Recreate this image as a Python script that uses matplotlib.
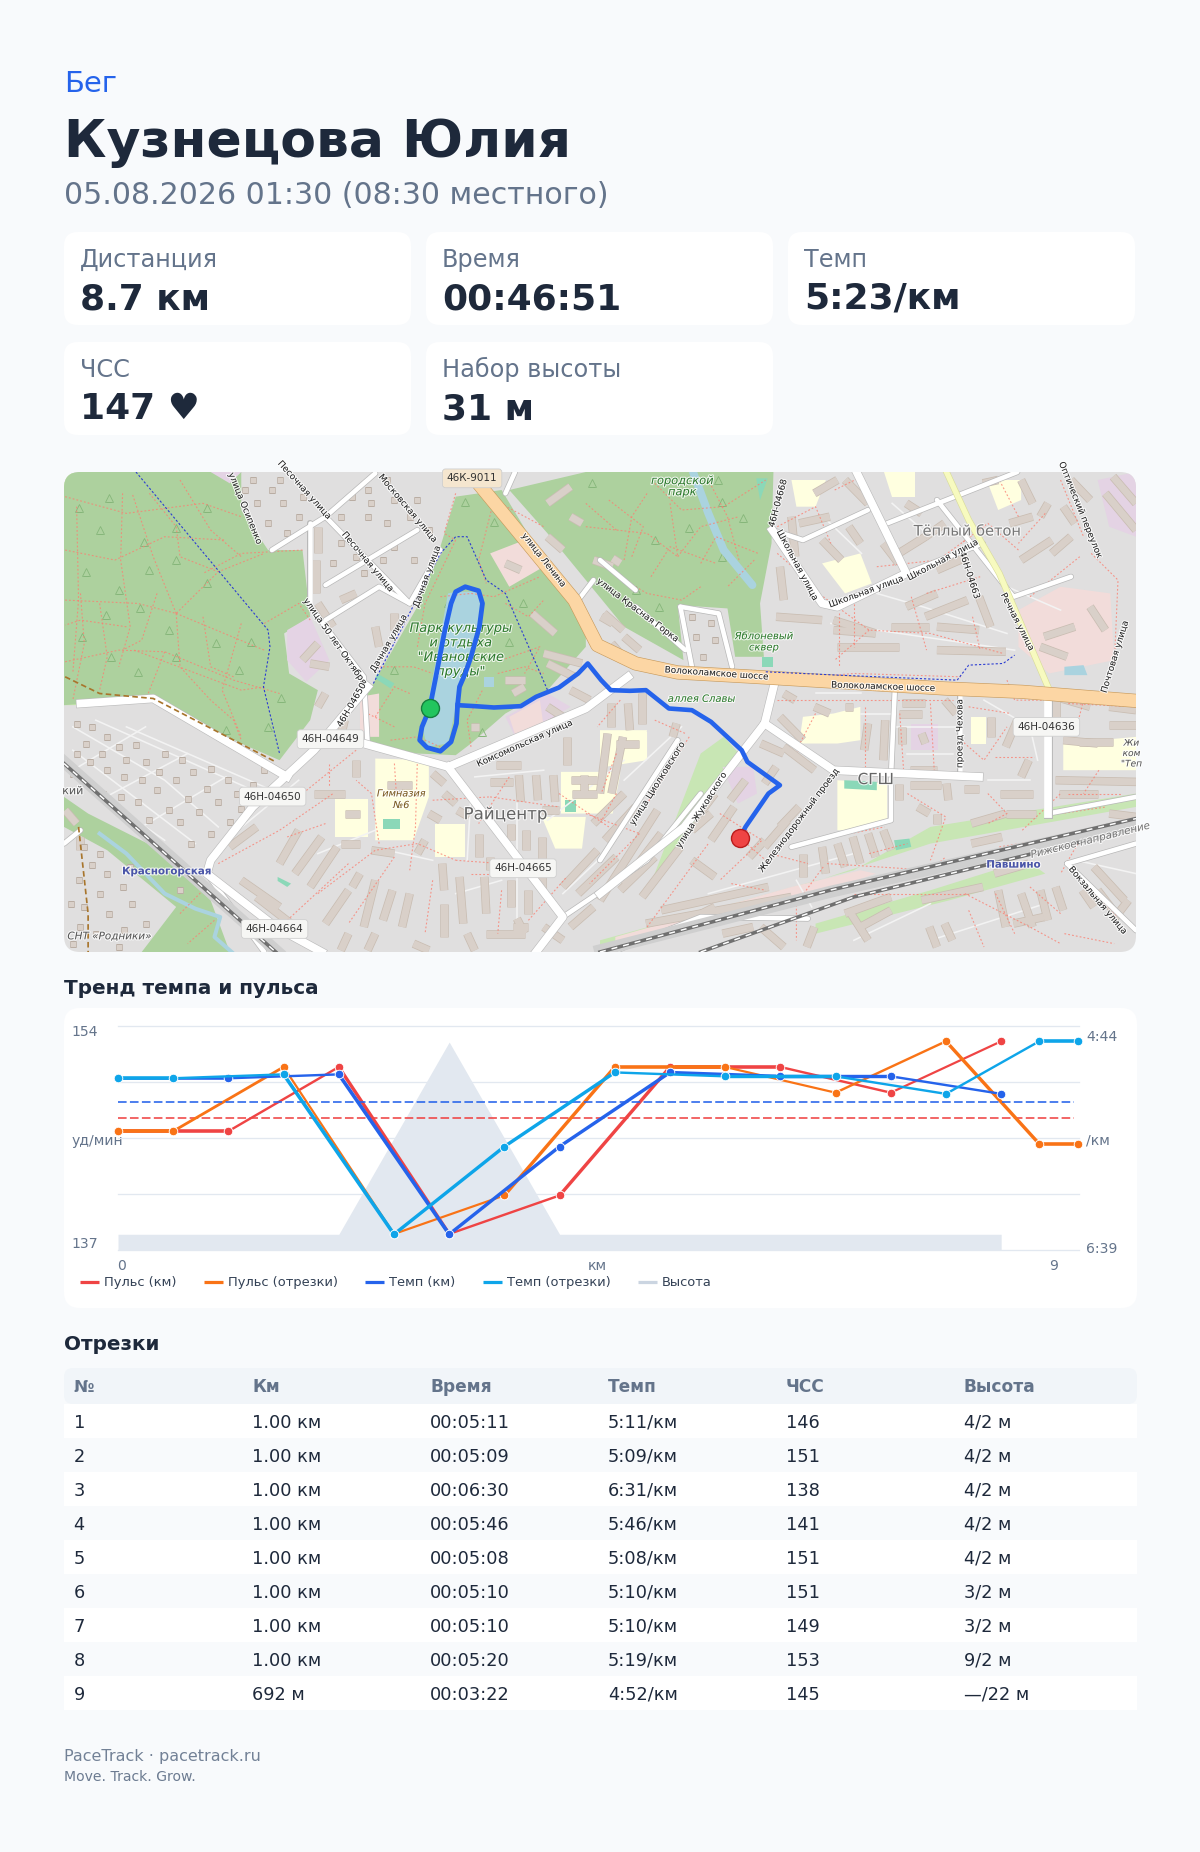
#!/usr/bin/env python3
import matplotlib
matplotlib.use('Agg')
import matplotlib.pyplot as plt
import matplotlib.patheffects as pe
from matplotlib.patches import FancyBboxPatch, Polygon

plt.rcParams['font.family'] = ['DejaVu Sans']
plt.rcParams['lines.scale_dashes'] = False

W, H = 1200, 1852
PT = 0.72  # one pixel in points at dpi 100

BG = '#f8fafc'
DARK = '#1e293b'
GREY = '#64748b'
BLUE = '#2563eb'
RED = '#ef4444'
ORANGE = '#f97316'
CYAN = '#0ea5e9'
ELEV = '#e2e8f0'
GRID = '#e2e8f0'

# --- chart data ---
km_x = [0, 1, 2, 3, 4, 5, 6, 7, 8]
seg_x = [0, 0.5, 1.5, 2.5, 3.5, 4.5, 5.5, 6.5, 7.5, 8.346, 8.692]
hr_km = [146, 146, 151, 138, 141, 151, 151, 149, 153]
hr_seg = [146, 146, 151, 138, 141, 151, 151, 149, 153, 145, 145]
pace_km = [311, 311, 309, 391, 346, 308, 310, 310, 319]
pace_seg = [311, 311, 309, 391, 346, 308, 310, 310, 319, 292, 292]
elev_km = [1, 1, 1, 13, 1, 1, 1, 1, 1]
hr_avg = 147
pace_avg = 323

# line thickness per segment, px (the lines in the source change width)
hr_km_w = [3.6, 2.4, 3.4, 2.4, 3.4, 3.6, 2.4, 2.2]
hr_seg_w = [3.6, 2.8, 2.2, 2.2, 3.4, 3.6, 2.2, 2.4, 3.4, 3.6]
pace_km_w = [2.6, 2.4, 3.6, 3.4, 3.4, 3.2, 3.4, 2.4]
pace_seg_w = [3.6, 2.4, 3.6, 3.4, 3.4, 2.4, 3.4, 2.4, 2.4, 3.6]

legend_names = ['Пульс (км)', 'Пульс (отрезки)', 'Темп (км)', 'Темп (отрезки)', 'Высота']
legend_cols = [RED, ORANGE, BLUE, CYAN, '#cbd5e1']

# --- page text ---
cards = [('Дистанция', '8.7 км'), ('Время', '00:46:51'), ('Темп', '5:23/км'),
         ('ЧСС', '147 ♥'), ('Набор высоты', '31 м')]
table_head = ['№', 'Км', 'Время', 'Темп', 'ЧСС', 'Высота']
table_rows = [
    ['1', '1.00 км', '00:05:11', '5:11/км', '146', '4/2 м'],
    ['2', '1.00 км', '00:05:09', '5:09/км', '151', '4/2 м'],
    ['3', '1.00 км', '00:06:30', '6:31/км', '138', '4/2 м'],
    ['4', '1.00 км', '00:05:46', '5:46/км', '141', '4/2 м'],
    ['5', '1.00 км', '00:05:08', '5:08/км', '151', '4/2 м'],
    ['6', '1.00 км', '00:05:10', '5:10/км', '151', '3/2 м'],
    ['7', '1.00 км', '00:05:10', '5:10/км', '149', '3/2 м'],
    ['8', '1.00 км', '00:05:20', '5:19/км', '153', '9/2 м'],
    ['9', '692 м', '00:03:22', '4:52/км', '145', '—/22 м'],
]

# --- map data, in sheet units (left part); OFF shifts the right part lists ---
OFF = 1437
route_lake = [(992, 745), (1010, 640), (1030, 520), (1048, 430), (1060, 395), (1085, 380), (1120, 392),
              (1130, 430), (1122, 500), (1100, 590), (1085, 640), (1070, 680), (1065, 735), (1062, 790),
              (1048, 845), (1020, 873), (985, 862), (966, 840), (972, 800), (992, 745)]
route_east = [(1065, 735), (1110, 738), (1160, 742), (1230, 738), (1270, 710), (1330, 682), (1380, 640),
              (1405, 610), (1440, 660), (1465, 690), (1515, 692), (1557, 690), (1617, 745), (1677, 750),
              (1727, 785), (1807, 870), (1822, 905), (1907, 975), (1877, 1000), (1847, 1050), (1817, 1100),
              (1803, 1133)]

forest = [(37, 36), (500, 36), (500, 150), (570, 270), (660, 270), (680, 470), (612, 520), (625, 640),
          (700, 690), (680, 780), (600, 900), (500, 850), (270, 715), (37, 735)]
park_mid = [(1020, 260), (1060, 110), (1180, 90), (1290, 300), (1400, 470), (1400, 560), (1300, 690), (1190, 760),
            (1100, 850), (1060, 885), (960, 880), (830, 855), (830, 700), (860, 640), (960, 440)]
park_top = [(1200, 90), (1400, 36), (1890, 36), (1885, 250), (1855, 430), (1865, 590), (1790, 590), (1770, 445),
            (1640, 435), (1655, 600), (1500, 500), (1400, 360), (1300, 220)]
green_sw = [(37, 1010), (100, 1060), (290, 1170), (420, 1320), (470, 1475), (240, 1475), (330, 1340), (150, 1170),
            (37, 1100)]
green_rail = [(1560, 1300), (1640, 1060), (1700, 880), (1760, 830), (1800, 880), (1680, 1090)]
green_strip = [(1437, 1440), (2100, 1230), (2300, 1100), (2837, 1000), (2837, 1040), (2300, 1150), (1437, 1475)]
green_sw2 = [(2000, 1390), (2300, 1290), (2550, 1200), (2600, 1240), (2350, 1320), (2000, 1420)]
water_pond = [(1060, 395), (1125, 395), (1125, 470), (1080, 640), (1040, 850), (985, 860), (975, 810), (1040, 400)]
water_river = [(1680, 36), (1720, 160), (1760, 270), (1835, 375)]
water_sw = [(130, 1120), (200, 1180), (300, 1300), (380, 1345), (445, 1370), (430, 1430), (475, 1475)]
schools = [
    [(850, 895), (990, 900), (990, 1010), (950, 1140), (850, 1140)],
    [(745, 1015), (830, 1015), (830, 1130), (745, 1130)],
    [(1005, 1090), (1085, 1090), (1085, 1190), (1005, 1190)],
    [(1335, 935), (1490, 935), (1460, 1060), (1335, 1060)],
    [(1285, 1070), (1400, 1070), (1390, 1165), (1320, 1165)],
    [(1450, 815), (1560, 815), (1560, 900), (1450, 920)],
    [(1967, 770), (2047, 760), (2117, 740), (2117, 840), (2057, 850), (1957, 850)],
    [(2057, 960), (2187, 970), (2187, 1080), (2077, 1110), (2057, 1110)],
    [(2017, 310), (2117, 280), (2147, 370), (2077, 400)],
    [(1937, 60), (2027, 60), (2000, 140), (1950, 140)],
    [(2447, 60), (2537, 60), (2537, 120), (2477, 150)],
    [(2647, 850), (2837, 830), (2837, 930), (2647, 930)],
    [(2180, 36), (2260, 36), (2260, 110), (2200, 110)],
    [(2405, 770), (2445, 770), (2445, 850), (2405, 850)],
    [(1437, 810), (1560, 810), (1540, 900), (1437, 920)],
    [(1437, 940), (1490, 940), (1470, 1060), (1437, 1060)],
]
mauve = [
    [(620, 510), (680, 470), (730, 600), (670, 665), (620, 600)],
    [(1190, 770), (1300, 700), (1360, 740), (1220, 840)],
    [(2737, 60), (2837, 36), (2837, 230), (2767, 200)],
    [(1757, 920), (1837, 920), (1847, 1000), (1797, 1030)],
    [(420, 36), (500, 36), (470, 70)],
    [(2250, 790), (2320, 790), (2320, 870), (2250, 870)],
    [(2420, 1180), (2300, 1230), (2380, 1200)],
]
pinks = [
    [(1150, 280), (1240, 240), (1290, 320), (1200, 380)],
    [(2530, 450), (2640, 380), (2770, 400), (2780, 600), (2610, 640), (2530, 560)],
    [(1477, 1430), (1937, 1280), (2117, 1230), (2157, 1240), (1937, 1330), (1477, 1475)],
    [(810, 710), (860, 700), (860, 830), (810, 830)],
    [(1200, 770), (1280, 720), (1290, 800), (1220, 840)],
]
water_small = [[(2650, 620), (2700, 615), (2710, 645), (2650, 645)], [(1135, 650), (1160, 650), (1160, 680), (1135, 680)]]
teal = [[(870, 1075), (915, 1075), (915, 1105), (870, 1105)], [(1345, 1020), (1375, 1020), (1375, 1055), (1345, 1055)],
        [(1855, 120), (1875, 55), (1845, 55)], [(2205, 1140), (2245, 1135), (2250, 1160), (2210, 1170)],
        [(855, 640), (900, 670), (890, 685), (850, 655)], [(595, 1250), (630, 1270), (620, 1280), (595, 1262)],
        [(1860, 590), (1890, 590), (1890, 620), (1860, 620)], [(2075, 960), (2160, 965), (2160, 990), (2075, 985)]]

motorway = [(1130, 85), (1370, 420), (1430, 555), (1530, 610), (1640, 637), (1840, 650), (2337, 685), (2540, 695),
            (2837, 722)]
yellow_road = [(2342, 36), (2400, 180), (2480, 340), (2607, 680)]
big_roads = [
    [(690, 850), (820, 850), (1040, 920), (1400, 745), (1510, 650)],
    [(1040, 920), (1340, 1370), (1270, 1475)],
    [(830, 680), (690, 870), (530, 1040), (420, 1200), (410, 1240), (590, 1400), (710, 1475)],
    [(620, 950), (270, 715), (80, 730)],
    [(1897, 650), (1867, 790), (1657, 1100), (1437, 1300)],
    [(1867, 790), (2047, 930), (2427, 950)],
    [(2607, 730), (2607, 1060)],
    [(2107, 36), (2237, 340), (2057, 440), (2017, 430), (1887, 210)],
]
small_roads = [
    [(680, 440), (820, 650), (830, 850)], [(580, 270), (720, 170), (850, 40)], [(720, 170), (940, 430), (1020, 270)],
    [(680, 190), (680, 430)], [(720, 480), (860, 380), (940, 430)], [(720, 375), (960, 210)], [(1190, 100), (1215, 36)],
    [(1380, 420), (1420, 360)], [(1887, 210), (1967, 240), (2137, 150)], [(2237, 340), (2437, 250)],
    [(2187, 190), (2527, 36)], [(2317, 120), (2517, 410), (2667, 350)], [(2607, 1060), (2837, 1010)],
    [(1647, 440), (1747, 460), (1782, 620)], [(1647, 440), (1677, 620)], [(2377, 700), (2377, 950)],
    [(2207, 690), (2197, 950), (2197, 1080), (1937, 1160)], [(2657, 1210), (2837, 1150)], [(2657, 1210), (2837, 1410)],
    [(1437, 300), (1530, 390)], [(1530, 440), (1660, 570)], [(1470, 1475), (1700, 1370), (1980, 1375)],
    [(1340, 1370), (1560, 1200), (1700, 1000)], [(37, 1150), (80, 1110)], [(1640, 840), (1437, 1200)],
    [(560, 1475), (410, 1240)],
]
lanes = [
    [(60, 800), (300, 960), (440, 1100)], [(60, 870), (380, 1150)], [(60, 950), (300, 1140)], [(120, 780), (550, 1000)],
    [(200, 800), (600, 1000)], [(460, 950), (240, 1100)], [(360, 880), (130, 1020)], [(250, 800), (60, 930)],
    [(470, 1130), (650, 960)], [(880, 1170), (1000, 1200)], [(1100, 1000), (1090, 1200)], [(1110, 950), (1290, 930)],
    [(1300, 1080), (1500, 900)], [(1650, 800), (1500, 960)], [(2000, 700), (2120, 700)], [(2120, 760), (2210, 760)],
    [(2210, 800), (2380, 800)], [(2240, 880), (2360, 880)], [(2440, 720), (2560, 800), (2580, 900)], [(2450, 960), (2560, 960)],
    [(2160, 400), (2280, 440), (2500, 520)], [(2040, 490), (2520, 570)], [(2020, 170), (2120, 280)], [(2200, 130), (2300, 230)],
    [(2500, 380), (2640, 450)], [(2680, 1200), (2837, 1240)], [(1720, 1300), (2100, 1180)], [(2200, 1240), (2500, 1160)],
    [(2100, 1440), (2300, 1330)], [(2300, 1440), (2600, 1330)], [(1950, 1260), (1990, 1340)], [(1220, 980), (1220, 1400)],
    [(1340, 1300), (1450, 1180)], [(700, 1180), (850, 1110)], [(1060, 1300), (1180, 1260)],
]
cottages = [(70, 790), (110, 800), (150, 830), (95, 850), (135, 880), (180, 860), (225, 855), (200, 900), (250, 905),
            (300, 880), (345, 900), (285, 935), (240, 960), (195, 950), (150, 930), (105, 905), (70, 880), (60, 940),
            (100, 970), (140, 1000), (185, 1010), (230, 1025), (280, 990), (330, 960), (375, 935), (420, 925),
            (465, 960), (410, 985), (360, 1015), (310, 1050), (260, 1080), (340, 1085), (390, 1055), (440, 1025),
            (490, 1000), (530, 975), (560, 930), (470, 1085), (420, 1120), (370, 1150), (500, 1045), (150, 1240),
            (110, 1215), (190, 1280), (130, 1300), (75, 1260), (90, 1340), (155, 1360), (215, 1330), (250, 1390),
            (195, 1410), (120, 1420), (530, 60), (580, 90), (540, 130), (610, 130), (650, 170), (570, 190), (620, 220),
            (790, 110), (830, 90), (880, 60), (900, 120), (830, 170), (880, 190), (940, 170), (760, 250), (800, 290),
            (900, 260), (950, 300), (870, 300), (1677, 470), (1727, 490), (1687, 530), (1737, 540), (1707, 590),
            (510, 90), (600, 60), (660, 110), (760, 170), (840, 130), (960, 120), (990, 210), (740, 310), (820, 340),
            (55, 1330), (80, 1400), (60, 1450), (180, 1460), (130, 1180), (90, 1160), (340, 1290), (210, 1220)]
buildings = [
    (600, 1210, 650, 1110), (640, 1240, 710, 1130), (680, 1280, 750, 1160), (500, 1260, 600, 1340), (720, 1390, 780, 1290),
    (790, 1280, 810, 1240), (820, 1400, 850, 1260), (870, 1380, 895, 1290), (1025, 1210, 1030, 1290), (1070, 1250, 1080, 1390),
    (1135, 1250, 1140, 1360), (1205, 1090, 1205, 1140), (1245, 1110, 1245, 1170), (1285, 1130, 1285, 1290), (1205, 1260, 1205, 1340),
    (1250, 1290, 1250, 1360), (1120, 1120, 1120, 1190), (1150, 965, 1210, 965), (1225, 945, 1230, 1025), (1270, 945, 1275, 1020),
    (1315, 945, 1320, 1025), (1350, 830, 1350, 915), (1165, 915, 1230, 915), (1285, 1050, 1330, 1050), (1465, 730, 1465, 800),
    (1510, 730, 1515, 810), (880, 975, 945, 975), (910, 965, 910, 1000), (770, 1060, 810, 1060), (1360, 960, 1430, 960),
    (1395, 945, 1395, 1000), (1365, 1000, 1430, 1000), (1480, 850, 1540, 850), (700, 200, 700, 280), (695, 300, 695, 400),
    (760, 420, 800, 400), (850, 500, 860, 560), (900, 460, 900, 510), (700, 430, 740, 500), (660, 600, 700, 550), (680, 610, 730, 620),
    (1300, 230, 1340, 270), (1290, 580, 1390, 610), (1300, 610, 1370, 650), (1260, 460, 1320, 520), (1190, 310, 1230, 330),
    (1360, 690, 1410, 720), (1300, 740, 1340, 770), (1300, 130, 1360, 80), (1470, 295, 1490, 310), (1420, 1090, 1500, 1000),
    (1450, 1140, 1530, 1040), (1490, 1290, 1580, 1190), (1340, 1280, 1430, 1170), (1380, 1300, 1480, 1190),
    (960, 1180, 980, 1140), (1090, 1420, 1110, 1470), (1140, 1420, 1240, 1420), (1220, 1375, 1240, 1420), (950, 1450, 990, 1470),
    (700, 850, 770, 850), (690, 1000, 770, 1000), (800, 900, 800, 950), (840, 1170, 900, 1180),
    (80, 1130, 80, 1170), (40, 1050, 70, 1090),
    (540, 1310, 630, 1390), (470, 1160, 540, 1100), (1000, 940, 1030, 970), (1030, 1000, 1060, 1030), (990, 1060, 1020, 1080),
    (1065, 1050, 1095, 1070), (760, 1150, 810, 1150), (1150, 1190, 1150, 1230), (1360, 1400, 1420, 1340), (1290, 1400, 1340, 1440),
    (1210, 1400, 1250, 1400), (1030, 1330, 1030, 1430), (940, 1300, 920, 1400), (780, 1420, 760, 1470), (850, 1420, 830, 1470),
    (1190, 660, 1240, 660), (1210, 700, 1240, 680), (1100, 800, 1120, 800), (1290, 800, 1340, 770), (1440, 470, 1470, 490),
    (1500, 530, 1540, 570), (1420, 300, 1470, 320), (1360, 170, 1390, 190), (720, 700, 700, 740), (770, 780, 760, 830),
]
right_bldgs = [
    (20, 820, 0, 1000), (60, 830, 30, 1000), (10, 460, 60, 510), (30, 550, 60, 590), (110, 700, 110, 790), (200, 790, 190, 830),
    (260, 1060, 300, 1000), (290, 1140, 350, 1040), (340, 1020, 380, 960), (460, 920, 430, 970), (470, 1100, 520, 1040),
    (430, 1160, 490, 1080), (390, 1190, 430, 1140), (470, 770, 530, 840), (480, 860, 560, 930), (420, 850, 480, 880),
    (530, 1180, 530, 1250), (580, 1160, 590, 1240), (620, 1150, 640, 1220), (660, 1130, 680, 1210), (700, 1120, 720, 1190),
    (740, 1110, 760, 1170), (700, 790, 690, 870), (745, 780, 740, 900), (790, 730, 850, 730), (790, 800, 790, 850),
    (840, 820, 850, 850), (810, 930, 880, 930), (780, 970, 780, 1020), (810, 975, 890, 975), (905, 970, 910, 1020),
    (950, 985, 990, 985), (830, 1040, 860, 1060), (1045, 1000, 1130, 1000), (1060, 1060, 1140, 1060), (1190, 960, 1400, 965),
    (1330, 795, 1400, 795), (1250, 845, 1340, 845), (640, 740, 660, 740), (560, 740, 600, 760), (480, 700, 510, 720),
    (620, 560, 780, 560), (610, 510, 720, 520), (760, 500, 860, 500), (880, 500, 990, 510), (880, 570, 1060, 575),
    (470, 320, 480, 420), (460, 470, 580, 480), (610, 480, 720, 520), (500, 170, 510, 290), (520, 190, 600, 170),
    (580, 240, 630, 300), (650, 200, 680, 250), (800, 130, 840, 160), (780, 280, 850, 230), (740, 250, 780, 310),
    (850, 230, 900, 190), (880, 330, 960, 290), (800, 440, 880, 400), (850, 470, 960, 420), (990, 410, 1020, 500),
    (1070, 190, 1130, 170), (1100, 300, 1180, 240), (1150, 170, 1170, 130), (1210, 140, 1240, 190), (1180, 280, 1230, 230),
    (1240, 500, 1160, 530), (1150, 560, 1220, 590), (1280, 440, 1320, 510), (1320, 100, 1400, 210), (1340, 50, 1400, 130),
    (0, 1320, 150, 1050), (60, 1270, 160, 1120), (110, 1310, 210, 1160), (240, 1110, 290, 1060), (240, 1200, 300, 1250),
    (160, 1350, 440, 1280), (120, 1390, 500, 1310), (640, 1360, 760, 1310), (680, 1400, 760, 1350), (860, 1400, 880, 1460),
    (900, 1390, 920, 1440), (1040, 1290, 1060, 1400), (1100, 1300, 1130, 1400), (1150, 1290, 1170, 1380), (1190, 1280, 1210, 1350),
    (1290, 1220, 1370, 1320), (1300, 1290, 1340, 1350), (840, 1320, 1000, 1280), (1030, 1240, 1120, 1210), (970, 1090, 1060, 1060),
    (1120, 900, 1100, 950), (1210, 840, 1300, 850), (1190, 710, 1280, 740), (1330, 740, 1400, 750), (650, 1350, 700, 1440),
    (560, 100, 620, 60), (640, 60, 700, 130), (1000, 70, 1040, 60), (1100, 60, 1130, 130), (1230, 60, 1280, 120),
    (1020, 770, 1020, 830), (1090, 780, 1060, 860), (1190, 720, 1190, 790), (780, 760, 840, 760), (900, 720, 930, 760),
    (1200, 1000, 1300, 1000), (1330, 1060, 1400, 1070), (880, 1060, 880, 1090), (970, 1150, 1050, 1130), (1260, 1290, 1290, 1340),
    (1340, 1380, 1380, 1320), (1080, 1390, 1160, 1370), (560, 1400, 540, 1460), (420, 1400, 480, 1460), (230, 1380, 300, 1340),
    (320, 1420, 400, 1400),
]
dotted_paths = [
    [(40, 110), (200, 160), (400, 130), (500, 170)], [(190, 100), (185, 300), (210, 500), (180, 620)],
    [(40, 420), (230, 430), (330, 460), (440, 335), (560, 280)], [(330, 460), (270, 290), (215, 100)],
    [(40, 605), (180, 570), (300, 575), (480, 660), (600, 700)], [(330, 460), (560, 570)], [(200, 500), (80, 480), (40, 495)],
    [(80, 400), (90, 550), (60, 720)], [(330, 460), (340, 620), (420, 720), (480, 780), (500, 840)],
    [(300, 575), (250, 720)], [(220, 570), (500, 690), (560, 680)], [(500, 490), (450, 690), (500, 830)],
    [(660, 270), (500, 280), (400, 340)], [(1020, 410), (1100, 400), (1160, 410), (1280, 350)],
    [(1180, 600), (1280, 560), (1240, 640)], [(890, 840), (960, 830), (1020, 860)], [(860, 620), (950, 620), (1000, 640)],
    [(1160, 120), (1120, 300), (1140, 370)], [(1060, 100), (1030, 220), (1060, 240)], [(1400, 200), (1480, 210), (1560, 220), (1640, 290)],
    [(1500, 300), (1520, 170), (1560, 100)], [(1640, 290), (1700, 200), (1800, 170)], [(1700, 310), (1740, 230), (1850, 280)],
    [(1580, 70), (1650, 150), (1760, 140), (1870, 60)], [(1700, 380), (1650, 420), (1560, 400), (1500, 360)],
    [(960, 900), (955, 1100), (940, 1230)], [(900, 910), (905, 1000)], [(700, 1300), (850, 1170), (960, 1150), (1060, 1200)],
    [(1060, 1200), (1300, 1220)], [(440, 1210), (600, 1110), (740, 1000)], [(1150, 1010), (1330, 1040)], [(1540, 1120), (1410, 1270)],
    [(1750, 1060), (1860, 1140), (1750, 1260)], [(1900, 660), (2100, 640), (2380, 650)], [(1900, 720), (2360, 720)],
    [(2500, 660), (2520, 720), (2640, 720)], [(2530, 270), (2450, 190), (2380, 250)], [(2020, 410), (2140, 510), (2300, 520), (2490, 580)],
    [(2060, 460), (2060, 620)], [(2140, 510), (2050, 600)], [(2380, 840), (2440, 900), (2500, 800)], [(2240, 1000), (2340, 1070), (2300, 1200)],
    [(2020, 1220), (1950, 1330), (1950, 1440)], [(2030, 1210), (2300, 1230), (2340, 1190)], [(2480, 1160), (2700, 1120), (2837, 1080)],
    [(2660, 1000), (2800, 1000)], [(2700, 1120), (2640, 1240)], [(2450, 1000), (2500, 1060), (2450, 1090)], [(2720, 280), (2790, 360), (2780, 620)],
    [(2640, 60), (2700, 230)], [(2390, 1300), (2560, 1400), (2640, 1450)], [(2100, 1300), (2400, 1300)], [(1480, 1000), (1437, 1090)],
    [(1560, 1400), (1720, 1150)], [(1880, 1210), (1780, 1110)], [(1200, 950), (1120, 1090)], [(720, 1090), (620, 1130)],
    [(70, 140), (75, 420), (60, 640)], [(40, 270), (170, 300), (300, 230), (460, 240)], [(260, 100), (330, 200), (340, 290), (440, 335)],
    [(340, 60), (420, 210), (500, 290)], [(130, 430), (150, 590), (130, 690)], [(400, 470), (420, 620), (480, 650)], [(280, 400), (240, 540), (190, 570)],
    [(560, 490), (650, 430), (680, 480)], [(1060, 240), (980, 430), (960, 560)], [(1160, 120), (1290, 200)], [(1100, 860), (1090, 780), (1130, 690)],
    [(850, 770), (900, 680), (940, 700)], [(900, 800), (830, 760)], [(1170, 640), (1240, 620), (1290, 640)], [(1190, 430), (1250, 470), (1290, 420)],
    [(1460, 120), (1550, 200), (1520, 290)], [(1400, 130), (1480, 210)], [(1800, 300), (1770, 170), (1720, 60)], [(1840, 300), (1770, 380)],
    [(1570, 350), (1620, 260), (1740, 310)], [(1620, 130), (1640, 290)], [(860, 1150), (840, 1000), (800, 960)], [(1000, 1020), (1150, 1010)],
    [(1100, 1240), (1300, 1240)], [(1250, 1380), (1350, 1250)], [(1330, 1000), (1460, 1100)], [(1400, 1060), (1540, 1120)], [(1180, 1290), (1170, 1420)],
    [(900, 1190), (780, 1390)], [(1000, 1260), (980, 1420)], [(620, 1380), (780, 1210)], [(430, 1380), (360, 1450)], [(340, 1360), (400, 1290)],
    [(730, 910), (730, 980)], [(800, 870), (660, 1000)], [(1490, 720), (1430, 800)], [(1480, 880), (1440, 1000)], [(1580, 780), (1660, 820)],
    [(1670, 830), (1560, 1030)], [(2000, 760), (1950, 870), (2040, 920)], [(2130, 740), (2130, 920)], [(2220, 760), (2230, 930)], [(2300, 730), (2310, 930)],
    [(2400, 740), (2510, 760)], [(2470, 890), (2570, 890)], [(2640, 1060), (2760, 1040)], [(2660, 730), (2837, 740)], [(2740, 930), (2700, 1000)],
    [(2000, 1140), (2180, 1100)], [(2140, 1180), (2240, 1150)], [(1880, 1180), (1980, 1210)], [(1780, 1270), (1870, 1290)],
    [(2050, 90), (2120, 50)], [(1900, 200), (2000, 140), (2040, 250)], [(1900, 280), (2000, 380)], [(2160, 320), (2320, 300), (2440, 200)], [(2290, 400), (2430, 350)],
    [(2530, 170), (2480, 60)], [(2600, 160), (2530, 250)], [(2560, 410), (2690, 290)], [(2100, 420), (2100, 560)], [(2250, 410), (2290, 570)],
    [(2410, 470), (2430, 570)], [(2700, 720), (2680, 810)], [(2540, 1110), (2640, 1000)],
    [(2400, 1350), (2440, 1460)], [(2470, 1300), (2520, 1420)], [(2560, 1280), (2640, 1360)], [(2710, 1280), (2790, 1370)], [(2650, 1420), (2780, 1450)],
]
blue_bounds = [
    [(225, 36), (570, 510), (575, 560), (558, 680), (600, 880)],
    [(845, 670), (1020, 280), (1060, 230), (1090, 230), (1140, 360), (1190, 400), (1300, 690)],
    [(1870, 635), (2060, 645), (2370, 660), (2400, 615), (2490, 610), (2520, 585)],
]
brown_bounds = [[(40, 650), (130, 700), (270, 715), (590, 905)], [(75, 1100), (100, 1360), (100, 1475)]]
rail_lines = [[(37, 910), (590, 1475)], [(1437, 1475), (2037, 1290), (2837, 1075)], [(1700, 1475), (2100, 1310), (2837, 1105)]]
rail_bed = [[(37, 905), (595, 1475)], [(1437, 1470), (2037, 1295), (2837, 1088)]]
# tree symbols of the park areas
trees = [(155, 115), (130, 210), (75, 145), (245, 245), (330, 205), (410, 145), (95, 335), (180, 390), (258, 330), (330, 300),
         (410, 370), (235, 445), (148, 465), (85, 530), (310, 510), (525, 545), (435, 550), (160, 590), (230, 635), (330, 590),
         (495, 630), (605, 715), (570, 800), (460, 810), (1415, 70), (1085, 125), (1160, 185), (1235, 430), (1200, 545), (900, 630),
         (1040, 430), (1130, 815), (1745, 60), (1755, 125), (1810, 175), (1670, 205), (1580, 240), (1755, 290), (1530, 390), (1590, 440)]
shields = [('46К-9011', 1103, 55, '#f5e6cf'), ('46Н-04649', 733, 837, '#f6f6f4'), ('46Н-04650', 582, 1009, '#f6f6f4'),
           ('46Н-04665', 1236, 1224, '#f6f6f4'), ('46Н-04664', 587, 1406, '#f6f6f4'), ('46Н-04636', 2603, 800, '#f6f6f4')]
# text, x, y, rotation
street_names = [
    ('улица Ленина', 1290, 300, -52), ('Комсомольская улица', 1240, 850, 24), ('Волоколамское шоссе', 1742, 640, -4),
    ('Волоколамское шоссе', 2177, 680, -2), ('Железнодорожный проезд', 1957, 1080, 53), ('улица Жуковского', 1702, 1050, 58),
    ('улица Циолковского', 1587, 970, 58), ('проезд Чехова', 2377, 820, 90), ('Речная улица', 2527, 485, -63),
    ('Вокзальная улица', 2737, 1320, -50), ('Почтовая улица', 2782, 590, 73), ('Оптический переулок', 2692, 150, -68),
    ('улица Красная Горка', 1535, 450, -37), ('Дачная улица', 985, 350, 70), ('Дачная улица', 885, 550, 60),
    ('Песочная улица', 830, 305, -50), ('Песочная улица', 665, 90, -48), ('Московская улица', 935, 145, -50),
    ('улица Осипенко', 510, 145, -68), ('улица 50 лет Октября', 745, 545, -55), ('46Н-04650', 788, 735, 60),
    ('46Н-04668', 1902, 130, 75), ('46Н-04663', 2402, 345, -72), ('Школьная улица', 1952, 315, -62),
    ('Школьная улица', 2132, 395, 20), ('Школьная улица', 2332, 300, 28),
]
place_names = [('Райцентр', 1190, 1062, 12, '#666666'), ('Тёплый бетон', 2397, 213, 10.5, '#777777'), ('СГШ', 2157, 958, 11, '#666666'),
               ('кий', 60, 993, 8, '#555555')]
park_names = [('Парк культуры\nи отдыха\n"Ивановские\nпруды"', 1073, 570, 9.3), ('городской\nпарк', 1652, 80, 8.2),
              ('Яблоневый\nсквер', 1865, 545, 7.2), ('аллея Славы', 1702, 716, 7.2)]
station_names = [('Красногорская', 306, 1233), ('Павшино', 2517, 1213)]
other_names = [('Гимназия\n№6', 918, 1017, 7, '#7a5a20'), ('СНТ «Родники»', 155, 1428, 7.5, '#555555'),
               ('Рижское направление', 2717, 1140, 7.5, '#777777'), ('Жи\nком\n"Теп', 2825, 880, 6.5, '#555555')]


def px_font(px):
    return px * PT


def rounded(ax, x0, y0, x1, y1, r, color, z=1):
    p = FancyBboxPatch((x0 + r, y0 + r), x1 - x0 - 2 * r, y1 - y0 - 2 * r,
                       boxstyle='round,pad=%f,rounding_size=%f' % (r, r),
                       fc=color, ec='none', zorder=z)
    ax.add_patch(p)
    return p


def draw_page(bg):
    bg.text(64, 91.7, 'Бег', color=BLUE, fontsize=px_font(29), va='baseline')
    bg.text(64, 156.7, 'Кузнецова Юлия', color=DARK, fontsize=px_font(52), fontweight='bold', va='baseline')
    bg.text(64, 204, '05.08.2026 01:30 (08:30 местного)', color=GREY, fontsize=px_font(30), va='baseline')

    xs = [(64, 411), (426, 773), (788, 1135)]
    ys = [(232, 325), (342, 435)]
    for i, (lab, val) in enumerate(cards):
        x0, x1 = xs[i % 3]
        y0, y1 = ys[i // 3]
        rounded(bg, x0, y0, x1, y1, 14, 'white')
        bg.text(x0 + 16, y0 + 35, lab, color=GREY, fontsize=px_font(24), va='baseline')
        bg.text(x0 + 16, y0 + 77, val, color=DARK, fontsize=px_font(36), fontweight='bold', va='baseline')

    bg.text(64, 994, 'Тренд темпа и пульса', color=DARK, fontsize=px_font(20), fontweight='bold', va='baseline')
    rounded(bg, 64, 1008, 1137, 1308, 16, 'white')

    # axis captions and legend sit on the page layer
    lab = dict(color=GREY, fontsize=px_font(14), va='center')
    bg.text(71.5, 1032, '154', **lab)
    bg.text(72, 1140.7, 'уд/мин', **lab)
    bg.text(71.5, 1244, '137', **lab)
    bg.text(1086, 1037, '4:44', **lab)
    bg.text(1086, 1140.7, '/км', **lab)
    bg.text(1086, 1249, '6:39', **lab)
    bg.text(122, 1266, '0', ha='center', **lab)
    bg.text(597, 1266, 'км', ha='center', **lab)
    bg.text(1054, 1266, '9', ha='center', **lab)

    swatches = [80, 204, 365, 483, 638]
    for name, col, sx in zip(legend_names, legend_cols, swatches):
        bg.plot([sx, sx + 19], [1281.5, 1281.5], color=col, lw=3.2 * PT, solid_capstyle='butt')
        bg.text(sx + 24.2, 1282.3, name, color='#334155', fontsize=px_font(13), va='center')

    bg.text(64, 1350.5, 'Отрезки', color=DARK, fontsize=px_font(20), fontweight='bold', va='baseline')
    col_x = [73.5, 252, 430, 608, 786, 963.5]
    rounded(bg, 64, 1368, 1137, 1404, 9, '#f1f5f9')
    for cx, name in zip(col_x, table_head):
        bg.text(cx, 1392, name, color=GREY, fontsize=px_font(17), fontweight='bold', va='baseline')
    top = 1404
    for i, row in enumerate(table_rows):
        y0 = top + i * 34
        if i % 2 == 0:
            bg.fill_between([64, 1137], y0, y0 + 34, color='white', lw=0)
        for cx, val in zip(col_x, row):
            bg.text(cx, y0 + 23.5, val, color=DARK, fontsize=px_font(17.8), va='baseline')

    bg.text(64, 1761, 'PaceTrack · pacetrack.ru', color=GREY, fontsize=px_font(16), va='baseline', alpha=0.9)
    bg.text(64, 1781, 'Move. Track. Grow.', color=GREY, fontsize=px_font(14), va='baseline', alpha=0.95)


def draw_line(ax, x, y, widths, color, z):
    for i, w in enumerate(widths):
        ax.plot(x[i:i + 2], y[i:i + 2], color=color, lw=w * PT, solid_capstyle='round', zorder=z)
    ax.plot(x, y, ls='none', marker='o', ms=8.6 * PT, mfc=color, mec='white', mew=0.9 * PT, zorder=z + 1, clip_on=False)


def clean_axes(ax, xlim, ylim):
    ax.set_xlim(*xlim)
    ax.set_ylim(*ylim)
    ax.patch.set_visible(False)
    ax.set_xticks([])
    ax.set_yticks([])
    for s in ax.spines.values():
        s.set_visible(False)


def draw_chart(fig):
    rect = [118 / W, 1 - 1250.3 / H, 961 / W, 224.3 / H]
    xlim = (0, 8.705)

    ax_e = fig.add_axes(rect, zorder=2)
    clean_axes(ax_e, xlim, (0, 14))
    ax_e.fill_between(km_x, 0, elev_km, color=ELEV, lw=0)
    for fr in [0, 0.25, 0.5, 0.75, 1]:
        ax_e.plot(xlim, [14 * fr, 14 * fr], color=GRID, lw=1.3 * PT, zorder=0, clip_on=False)

    ax_h = fig.add_axes(rect, zorder=3)
    clean_axes(ax_h, xlim, (136.73, 154.19))
    ax_h.plot([0, 8.66], [hr_avg, hr_avg], color=RED, lw=1.6 * PT, dashes=(6.2, 2.4))
    draw_line(ax_h, km_x, hr_km, hr_km_w, RED, 3)
    draw_line(ax_h, seg_x, hr_seg, hr_seg_w, ORANGE, 5)

    ax_p = fig.add_axes(rect, zorder=4)
    clean_axes(ax_p, xlim, (399.2, 284.2))
    ax_p.plot([0, 8.66], [pace_avg, pace_avg], color=BLUE, lw=1.6 * PT, dashes=(6.2, 2.4))
    draw_line(ax_p, km_x, pace_km, pace_km_w, BLUE, 3)
    draw_line(ax_p, seg_x, pace_seg, pace_seg_w, CYAN, 5)


def draw_map(fig, clip):
    ax = fig.add_axes([64 / W, 1 - 952 / H, 1072 / W, 480 / H], zorder=2)
    clean_axes(ax, (37, 2837), (1475, 36))

    def polys(items, color, z):
        for pts in items:
            ax.add_patch(Polygon(pts, closed=True, fc=color, ec='none', zorder=z))

    def lines(items, color, w, z, **kw):
        for pts in items:
            x, y = zip(*pts)
            ax.plot(x, y, color=color, lw=w * PT, zorder=z, **kw)

    polys([[(37, 36), (60, 36), (75, 735), (37, 735)]], '#cdebb0', 1)
    polys([forest, park_mid, park_top, green_sw], '#add19e', 1.1)
    polys([green_rail, green_strip, green_sw2], '#c8e6b4', 1.1)
    polys(mauve, '#e4d3e4', 1.2)
    polys(pinks, '#f2dcda', 1.2)
    polys(schools, '#ffffe0', 1.3)
    polys([water_pond] + water_small, '#aad3df', 1.5)
    polys(teal, '#8bd8b8', 1.6)
    lines([water_river], '#aad3df', 8, 1.5, solid_capstyle='round')
    lines([water_sw], '#aad3df', 4, 1.5)

    tx, ty = zip(*trees)
    ax.plot(tx, ty, ls='none', marker='^', ms=8 * PT, mfc='none', mec='#86b67a', mew=0.6, zorder=1.4)

    lines(lanes, '#f3f3f3', 1.6, 1.9)
    for x0, y0, x1, y1 in buildings:
        ax.plot([x0, x1], [y0, y1], color='#c9bdb2', lw=8.5 * PT, solid_capstyle='butt', zorder=2)
        ax.plot([x0, x1], [y0, y1], color='#d9d0c9', lw=7 * PT, solid_capstyle='butt', zorder=2.1)
    for x0, y0, x1, y1 in right_bldgs:
        ax.plot([x0 + OFF, x1 + OFF], [y0, y1], color='#c9bdb2', lw=8.5 * PT, solid_capstyle='butt', zorder=2)
        ax.plot([x0 + OFF, x1 + OFF], [y0, y1], color='#d9d0c9', lw=7 * PT, solid_capstyle='butt', zorder=2.1)
    cx, cy = zip(*cottages)
    ax.plot(cx, cy, ls='none', marker='s', ms=6 * PT, mfc='#d9d0c9', mec='#b9ada3', mew=0.5, zorder=2.2)

    lines(dotted_paths, '#fa8072', 1.1, 2.5, ls=(0, (1.3, 1.5)), alpha=0.8)
    lines(small_roads, '#b8b8b8', 6, 3, solid_capstyle='round', solid_joinstyle='round')
    lines(small_roads, '#ffffff', 4.6, 3.1, solid_capstyle='round', solid_joinstyle='round')
    lines(big_roads, '#bbbbbb', 9, 3.2, solid_joinstyle='round')
    lines(big_roads, '#ffffff', 7.8, 3.3, solid_joinstyle='round')
    lines([yellow_road], '#d9dc9a', 6.6, 3.4)
    lines([yellow_road], '#f7fabf', 5.4, 3.5)
    lines([motorway], '#c79a5c', 14, 3.6, solid_joinstyle='round')
    lines([motorway], '#fcd6a4', 12.8, 3.7, solid_joinstyle='round')
    lines(rail_bed, '#cfcfcf', 12, 3.75)
    lines(rail_lines, '#707070', 3.6, 3.8)
    lines(rail_lines, '#ffffff', 1.5, 3.9, ls=(0, (4.3, 4.3)))
    lines(blue_bounds, '#2a3bd1', 1.1, 4, ls=(0, (1.6, 1.4)))
    lines(brown_bounds, '#a8752c', 1.7, 4, ls=(0, (4, 2.4)))

    halo = [pe.withStroke(linewidth=1.6, foreground='white', alpha=0.8)]
    for text, x, y, rot in street_names:
        ax.text(x, y, text, fontsize=6.4, rotation=rot, ha='center', va='center', color='#222222',
                path_effects=halo, zorder=5, rotation_mode='anchor')
    for text, x, y, size, col in place_names:
        ax.text(x, y, text, fontsize=size, ha='center', va='center', color=col, path_effects=halo, zorder=5)
    for text, x, y, size in park_names:
        ax.text(x, y, text, fontsize=size, ha='center', va='center', color='#2d7a2d', style='italic',
                path_effects=halo, zorder=5, linespacing=1.15)
    for text, x, y in station_names:
        ax.text(x, y, text, fontsize=7.4, ha='center', va='center', color='#4a55a8', fontweight='bold',
                path_effects=halo, zorder=5)
    for text, x, y, size, col in other_names:
        ax.text(x, y, text, fontsize=size, ha='center', va='center', color=col, style='italic',
                path_effects=halo, zorder=5, rotation=14 if 'Рижское' in text else 0)
    for text, x, y, col in shields:
        ax.text(x, y, text, fontsize=7.5, ha='center', va='center', color='#333333', zorder=6,
                bbox=dict(boxstyle='round,pad=0.42,rounding_size=0.3', fc=col, ec='#cfcfcf', lw=0.6))

    x, y = zip(*route_lake)
    ax.plot(x, y, color=BLUE, lw=4.8 * PT, zorder=7, solid_joinstyle='round')
    x, y = zip(*route_east)
    ax.plot(x, y, color=BLUE, lw=4.6 * PT, zorder=7, solid_joinstyle='round')
    ax.plot(route_lake[0][0], route_lake[0][1], marker='o', ms=18 * PT, mfc='#22c55e', mec='#15803d', mew=1, zorder=8)
    ax.plot(route_east[-1][0], route_east[-1][1], marker='o', ms=18 * PT, mfc=RED, mec='#b91c1c', mew=1, zorder=8)

    for art in ax.get_children():
        if art is not ax.patch:
            art.set_clip_path(clip)


fig = plt.figure(figsize=(W / 100, H / 100), dpi=100, facecolor=BG)
bg = fig.add_axes([0, 0, 1, 1], zorder=0)
clean_axes(bg, (0, W), (H, 0))
draw_page(bg)
map_base = rounded(bg, 64, 472, 1136, 952, 16, '#e0dfdf')
draw_map(fig, map_base)
draw_chart(fig)
fig.savefig('out.png', dpi=100, facecolor=BG)
